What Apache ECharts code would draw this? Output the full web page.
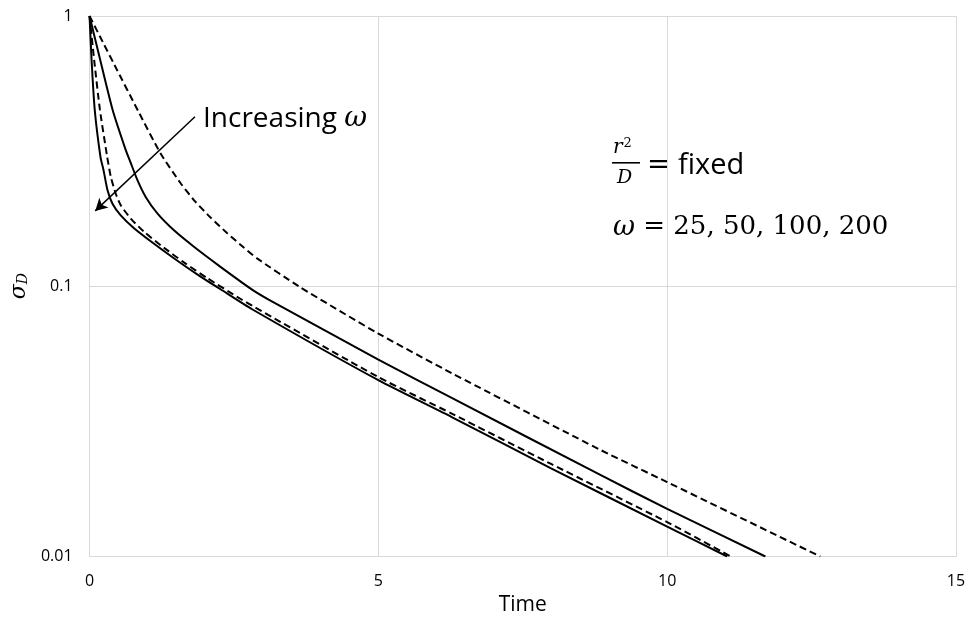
<!DOCTYPE html>
<html>
<head>
<meta charset="utf-8">
<script src="https://cdn.jsdelivr.net/npm/echarts@6/dist/echarts.min.js"></script>
<style>
  html, body { margin: 0; padding: 0; background: #fff; }
  #chart { width: 970px; height: 628px; }
</style>
</head>
<body>
<div id="chart"></div>
<script>
// ---- Data ----
const xTicks = [0, 5, 10, 15];
const yTicks = [0.01, 0.1, 1];

// omega = 25 (dashed, outermost)
const t25 = [0, 0.25, 0.43, 0.86, 1.23, 1.58, 1.81, 2.09, 2.38, 2.67, 2.90, 3.62, 5.0, 6.27, 8.86, 10.0, 12.65];
const s25 = [1, 0.785, 0.66, 0.437, 0.310, 0.240, 0.208, 0.180, 0.1574, 0.139, 0.1268, 0.1, 0.0668, 0.0477, 0.0247, 0.01885, 0.01];

// omega = 50 (solid)
const t50 = [0, 0.185, 0.40, 0.627, 0.713, 0.829, 0.972, 1.174, 1.462, 1.807, 2.267, 2.814, 3.10, 5.0, 6.27, 8.86, 10.0, 11.70];
const s50 = [1, 0.687, 0.449, 0.319, 0.286, 0.247, 0.214, 0.186, 0.161, 0.140, 0.118, 0.0972, 0.0893, 0.0535, 0.0386, 0.01995, 0.015, 0.01];

// omega = 100 (dashed)
const t100 = [0, 0.08, 0.18, 0.30, 0.368, 0.454, 0.54, 0.713, 0.944, 1.29, 1.634, 2.037, 2.61, 2.814, 5.0, 6.27, 7.99, 10.0, 11.1];
const s100 = [1, 0.687, 0.449, 0.306, 0.254, 0.220, 0.1995, 0.178, 0.159, 0.1387, 0.1225, 0.1072, 0.0899, 0.0847, 0.0461, 0.0338, 0.0220, 0.0134, 0.01];

// omega = 200 (solid, innermost)
const t200 = [0, 0.035, 0.09, 0.19, 0.242, 0.31, 0.397, 0.54, 0.77, 1.117, 1.46, 1.864, 2.267, 2.814, 5.0, 6.27, 7.99, 10.0, 11.04];
const s200 = [1, 0.687, 0.449, 0.30, 0.269, 0.227, 0.202, 0.183, 0.164, 0.1436, 0.127, 0.1107, 0.0975, 0.0822, 0.0449, 0.0328, 0.0212, 0.0129, 0.01];

// Arrow annotation endpoints (data coordinates)
const arrowFrom = [1.825, 0.424];
const arrowTo = [0.098, 0.19];

const zip = (t, s) => t.map((v, i) => [v, s[i]]);

const serif = '"DejaVu Serif", "Liberation Serif", serif';
const sans = '"Open Sans", "Liberation Sans", sans-serif';

function lineSeries(name, t, s, dashed) {
  return {
    name: name,
    type: 'line',
    data: zip(t, s),
    showSymbol: false,
    smooth: 0.2,
    clip: true,
    lineStyle: { color: '#000', width: 2, type: dashed ? [7, 4] : 'solid' },
    silent: true
  };
}

const chart = echarts.init(document.getElementById('chart'), null, { renderer: 'canvas' });

const series = [
  lineSeries('ω=25', t25, s25, true),
  lineSeries('ω=50', t50, s50, false),
  lineSeries('ω=100', t100, s100, true),
  lineSeries('ω=200', t200, s200, false)
];
series[0].markLine = {
  silent: true,
  symbol: ['none', 'arrow'],
  symbolSize: [10, 12],
  label: { show: false },
  lineStyle: { color: '#000', width: 1.5, type: 'solid' },
  data: [[{ coord: arrowFrom }, { coord: arrowTo }]]
};

chart.setOption({
  animation: false,
  backgroundColor: '#fff',
  grid: { left: 87, right: 14, top: 16, bottom: 71.5, containLabel: false },
  xAxis: {
    type: 'value',
    min: xTicks[0],
    max: xTicks[xTicks.length - 1],
    interval: 5,
    name: 'Time',
    nameLocation: 'middle',
    nameGap: 21,
    nameTextStyle: { fontFamily: sans, fontSize: 21, color: '#000' },
    axisLine: { show: true, lineStyle: { color: '#d9d9d9', width: 1 } },
    axisTick: { show: false },
    axisLabel: { fontFamily: sans, fontSize: 16, color: '#000', margin: 17 },
    splitLine: { show: true, lineStyle: { color: '#d9d9d9', width: 1 } }
  },
  yAxis: {
    type: 'log',
    logBase: 10,
    min: yTicks[0],
    max: yTicks[yTicks.length - 1],
    name: '{s|σ}{d|D}',
    nameLocation: 'middle',
    nameRotate: 90,
    nameGap: 58,
    nameTextStyle: {
      rich: {
        s: { fontFamily: serif, fontStyle: 'italic', fontSize: 22, color: '#000' },
        d: { fontFamily: serif, fontStyle: 'italic', fontSize: 14, color: '#000', verticalAlign: 'bottom', padding: [8, 0, 0, 0] }
      }
    },
    axisLine: { show: true, lineStyle: { color: '#d9d9d9', width: 1 } },
    axisTick: { show: false },
    axisLabel: {
      fontFamily: sans, fontSize: 16, color: '#000', margin: 17,
      formatter: function (v) { return yTicks.indexOf(+v.toPrecision(6)) >= 0 ? String(+v.toPrecision(6)) : ''; }
    },
    splitLine: { show: true, lineStyle: { color: '#d9d9d9', width: 1 } },
    minorSplitLine: { show: false }
  },
  series: series,
  graphic: [
    {
      type: 'text', left: 203, top: 105,
      style: {
        text: '{a|Increasing }{w|ω}',
        rich: {
          a: { fontFamily: sans, fontSize: 28, fill: '#000' },
          w: { fontFamily: serif, fontStyle: 'italic', fontSize: 28, fill: '#000' }
        }
      }
    },
    // r^2 / D = fixed
    { type: 'text', left: 613, top: 137, style: { text: '{r|r}{p|2}', rich: {
        r: { fontFamily: serif, fontStyle: 'italic', fontSize: 20, fill: '#000' },
        p: { fontFamily: serif, fontSize: 13, fill: '#000', verticalAlign: 'top', padding: [0, 0, 8, 1] } } } },
    { type: 'rect', shape: { x: 612, y: 162, width: 28, height: 1.6 }, style: { fill: '#000' } },
    { type: 'text', left: 617, top: 169, style: { text: 'D', fontFamily: serif, fontStyle: 'italic', fontSize: 19, fill: '#000' } },
    { type: 'text', left: 647, top: 151, style: { text: '{e|=}{f| fixed}', rich: {
        e: { fontFamily: serif, fontSize: 28, fill: '#000' },
        f: { fontFamily: sans, fontSize: 29, fill: '#000' } } } },
    { type: 'text', left: 613, top: 214, style: { text: '{w|ω}{e| = 25, 50, 100, 200}', rich: {
        w: { fontFamily: serif, fontStyle: 'italic', fontSize: 27, fill: '#000' },
        e: { fontFamily: serif, fontSize: 26, fill: '#000' } } } }
  ]
});
</script>
</body>
</html>
